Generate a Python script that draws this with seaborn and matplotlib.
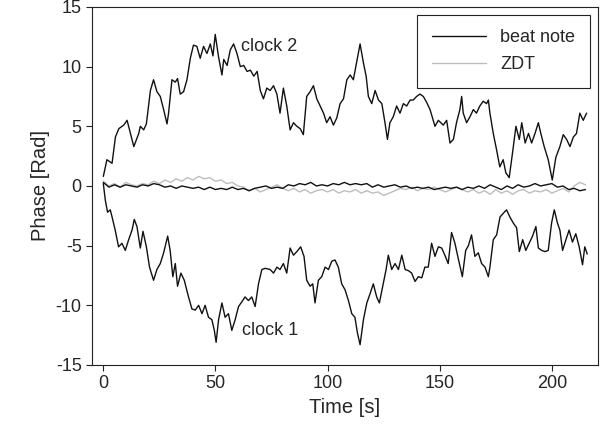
import matplotlib
matplotlib.use("Agg")
import matplotlib.pyplot as plt
import seaborn as sns
import pandas as pd
import numpy as np

# clock 2 (upper random walk)
clock2_t = [0, 1.6, 3.9, 5.4, 6.9, 9.1, 10.6, 12.1, 13.6, 15.8, 16.5, 18.0, 19.2, 21.0, 22.4,
            23.9, 25.4, 26.9, 28.4, 29.1, 30.6, 32.1, 33.1, 34.3, 35.8, 37.3, 38.8, 40.2, 41.7,
            43.2, 44.7, 46.2, 47.7, 48.9, 49.9, 51.4, 52.9, 53.7, 55.2, 56.6, 58.1, 59.6, 61.1,
            62.6, 64.1, 65.6, 67.1, 68.6, 70.0, 71.4, 72.9, 74.4, 75.9, 77.4, 78.8, 80.3, 81.8,
            83.3, 84.8, 86.3, 87.8, 89.2, 90.7, 92.2, 93.7, 95.2, 96.7, 98.2, 99.6, 101.1, 102.6,
            104.1, 105.6, 107.1, 108.6, 110.1, 111.5, 113.0, 114.5, 116.0, 117.2, 118.2, 119.7,
            121.2, 122.7, 124.2, 125.6, 126.7, 127.8, 129.3, 130.8, 132.3, 133.8, 135.3, 136.8,
            138.2, 139.7, 141.2, 142.7, 144.2, 145.7, 147.9, 149.4, 151.6, 153.1, 154.6, 156.1,
            157.5, 159.0, 159.8, 160.5, 162.0, 163.5, 165.0, 166.4, 167.9, 169.4, 170.9, 171.7,
            172.4, 173.9, 175.4, 176.8, 178.3, 179.5, 181.0, 182.5, 184.0, 185.5, 186.6, 188.1,
            189.6, 191.0, 192.5, 194.0, 195.1, 196.6, 198.4, 200.2, 201.8, 203.6, 205.1, 206.6,
            208.1, 209.6, 211.0, 212.5, 214.0, 215.5]
clock2_phase = [0.8, 2.2, 1.9, 4.1, 4.8, 5.1, 5.5, 4.4, 3.3, 4.4, 5.0, 4.7, 5.2, 8.0, 8.9,
                7.9, 7.5, 6.4, 5.2, 6.1, 8.9, 8.7, 9.0, 7.7, 7.9, 8.9, 10.7, 11.8, 11.7,
                10.7, 11.7, 11.1, 11.9, 10.9, 12.7, 10.8, 9.3, 10.6, 10.1, 11.4, 11.9, 11.1, 10.0,
                10.1, 9.6, 9.7, 9.2, 9.6, 8.0, 7.3, 8.2, 8.0, 8.4, 7.7, 6.1, 8.2, 6.7,
                4.7, 5.3, 5.0, 4.8, 4.3, 7.5, 7.9, 8.4, 7.3, 6.7, 6.1, 5.3, 5.8, 5.1,
                5.7, 6.9, 7.3, 8.9, 9.3, 8.9, 10.4, 11.9, 10.3, 9.2, 7.5, 6.9,
                8.0, 7.2, 6.9, 5.3, 3.9, 5.3, 5.8, 6.7, 6.1, 6.9, 6.7, 7.2,
                7.2, 7.5, 7.7, 7.5, 7.0, 6.4, 5.0, 5.5, 5.1, 5.5, 3.6, 3.9,
                5.3, 6.4, 7.5, 6.1, 5.3, 5.8, 6.4, 6.1, 6.7, 7.1, 6.9, 7.2,
                6.1, 4.4, 3.0, 1.6, 2.2, 1.1, 0.7, 2.8, 5.0, 3.9, 5.3, 3.6,
                4.4, 3.6, 4.4, 5.3, 4.4, 3.3, 2.2, 0.5, 2.4, 3.3, 4.3, 3.9,
                3.3, 4.1, 4.4, 6.1, 5.5, 6.1]

# clock 1 (lower random walk)
clock1_t = [0, 0.9, 1.9, 3.1, 3.9, 5.3, 6.8, 8.3, 9.8, 11.3, 12.8, 13.8, 15.0, 16.5, 17.7,
            19.2, 20.6, 22.4, 23.9, 25.4, 26.9, 28.7, 29.8, 31.0, 32.1, 33.1, 34.6, 36.1, 38.0,
            39.5, 41.0, 42.5, 44.0, 45.4, 46.9, 48.4, 49.5, 50.3, 51.4, 52.9, 54.3, 55.8, 57.3,
            58.8, 60.3, 61.8, 63.2, 64.7, 66.2, 67.7, 69.2, 70.7, 72.2, 74.4, 75.9, 77.4, 78.8,
            80.3, 81.8, 83.3, 84.8, 86.3, 88.0, 89.5, 90.7, 92.2, 93.4, 94.4, 95.9, 97.4, 98.9,
            100.4, 101.9, 103.3, 104.8, 106.3, 107.8, 109.3, 110.8, 112.2, 113.3, 114.5, 116.0,
            117.5, 119.0, 120.4, 121.9, 123.1, 124.6, 126.1, 127.1, 128.6, 130.1, 131.6, 133.1,
            134.6, 136.1, 137.5, 139.0, 140.5, 142.0, 143.4, 144.9, 146.4, 147.9, 149.4, 150.9,
            152.3, 153.8, 155.3, 156.8, 158.3, 160.1, 161.6, 162.8, 164.2, 165.7, 167.2, 168.7,
            170.2, 171.7, 172.4, 173.9, 175.4, 176.9, 178.3, 179.8, 181.3, 182.8, 184.3, 185.5,
            187.0, 188.4, 189.9, 191.4, 192.9, 194.0, 195.5, 197.0, 198.4, 199.9, 201.1, 202.5,
            203.6, 204.8, 206.3, 207.7, 209.2, 210.7, 212.2, 213.7, 214.7, 215.8]
clock1_phase = [0.2, -1.2, -2.2, -2.0, -2.6, -3.7, -5.1, -4.8, -5.4, -4.5, -3.7, -2.8, -3.4, -5.2, -3.8,
                -5.1, -6.8, -7.9, -7.0, -6.5, -5.6, -4.2, -5.4, -7.6, -6.5, -8.4, -7.3, -7.9, -9.3,
                -10.3, -10.4, -10.0, -10.7, -10.0, -11.0, -11.2, -12.1, -13.1, -11.2, -9.8, -11.0, -10.7, -12.1,
                -11.2, -10.1, -9.7, -9.3, -9.6, -9.3, -10.1, -8.2, -7.0, -6.9, -7.0, -7.3, -6.8, -7.0,
                -6.5, -7.3, -5.2, -5.8, -5.5, -5.1, -5.9, -7.9, -8.4, -8.2, -9.8, -7.9, -7.6, -6.8,
                -7.0, -6.3, -6.2, -6.8, -8.2, -8.7, -9.6, -10.7, -11.0, -12.3, -13.3, -11.2,
                -9.8, -9.0, -8.2, -9.3, -9.8, -8.4, -7.0, -5.8, -7.0, -6.5, -7.0, -5.8,
                -7.0, -7.1, -7.3, -8.0, -7.6, -7.7, -6.8, -6.8, -4.8, -5.9, -5.1, -5.2,
                -5.8, -6.5, -3.9, -4.8, -6.1, -7.6, -5.4, -5.0, -4.1, -5.9, -5.6, -6.5,
                -6.8, -7.6, -6.8, -4.5, -4.1, -2.6, -2.3, -2.0, -2.6, -3.1, -3.5, -5.5,
                -4.5, -5.4, -4.8, -4.2, -3.4, -5.2, -5.4, -5.5, -5.4, -3.1, -2.0, -3.1,
                -3.7, -5.4, -4.5, -3.7, -4.7, -4.0, -5.1, -6.6, -5.1, -5.7]

# beat note and ZDT, sampled every 2.5 s
fine_t = np.arange(0, 215.1, 2.5)
beat_note = [0.3, -0.1, 0.1, -0.1, 0.1, 0.0, -0.1, 0.1, 0.0, 0.2, 0.1, -0.1, 0.0, -0.2, 0.0,
             -0.1, -0.2, -0.1, -0.3, -0.1, -0.3, -0.2, -0.3, -0.1, -0.3, -0.2, -0.4, -0.2, -0.1,
             0.0, -0.2, -0.1, -0.2, 0.1, 0.0, 0.2, 0.1, 0.3, 0.0, 0.1, 0.0, 0.2, 0.1, 0.3, 0.1,
             0.2, 0.1, 0.2, -0.1, 0.1, -0.1, 0.0, 0.1, -0.1, 0.0, -0.2, -0.1, -0.2, -0.1, -0.3,
             -0.2, -0.1, -0.2, -0.1, -0.3, -0.1, -0.2, 0.0, -0.2, 0.1, -0.1, -0.3, 0.0, -0.2,
             0.1, -0.1, 0.0, 0.2, 0.0, 0.1, 0.2, -0.1, 0.0, -0.3, -0.2, -0.4, -0.3]
zdt = [0.4, 0.0, 0.2, -0.1, 0.3, 0.1, 0.0, 0.2, 0.1, 0.4, 0.2, 0.5, 0.3, 0.6, 0.4,
       0.7, 0.5, 0.8, 0.6, 0.7, 0.4, 0.5, 0.2, 0.3, 0.0, -0.1, -0.4, -0.2, -0.5,
       -0.3, -0.1, 0.1, -0.2, -0.4, -0.2, -0.5, -0.3, -0.6, -0.4, -0.3, -0.5, -0.3, -0.6, -0.4, -0.5,
       -0.3, -0.6, -0.4, -0.6, -0.5, -0.8, -0.6, -0.4, -0.2, -0.3, -0.1, -0.4, -0.2, -0.3, -0.1,
       -0.3, -0.5, -0.3, -0.1, -0.3, -0.5, -0.3, -0.6, -0.4, -0.7, -0.3, -0.6, -0.4, -0.7,
       -0.4, -0.3, -0.6, -0.4, -0.5, -0.3, -0.6, -0.4, -0.2, -0.5, 0.0, 0.3, 0.1]

x_ticks = [0, 50, 100, 150, 200]
y_ticks = [-15, -10, -5, 0, 5, 10, 15]

sns.set_style("ticks")
plt.rcParams["font.family"] = ["Liberation Sans", "DejaVu Sans"]
plt.rcParams["axes.unicode_minus"] = False

fig = plt.figure(figsize=(6.02, 4.34), dpi=100)
ax = fig.add_axes([0.153, 0.159, 0.840, 0.825])

sns.lineplot(x=clock2_t, y=clock2_phase, ax=ax, color="#111111", lw=1.0, sort=False)
sns.lineplot(x=clock1_t, y=clock1_phase, ax=ax, color="#111111", lw=1.0, sort=False)
sns.lineplot(x=fine_t, y=zdt, ax=ax, color="#bdbdbd", lw=1.0, label="ZDT")
sns.lineplot(x=fine_t, y=beat_note, ax=ax, color="#111111", lw=1.0, label="beat note")

# legend order: beat note first
handles, labels = ax.get_legend_handles_labels()
order = [labels.index("beat note"), labels.index("ZDT")]
leg = ax.legend([handles[i] for i in order], [labels[i] for i in order],
                loc="upper right", bbox_to_anchor=(0.984, 0.978), fontsize=13,
                frameon=True, fancybox=False, edgecolor="#222222", framealpha=1,
                handlelength=3.0, handletextpad=0.8, borderpad=0.8, labelspacing=0.55,
                borderaxespad=0)
leg.get_frame().set_linewidth(0.8)

ax.text(61.3, 11.7, "clock 2", fontsize=13, va="center", ha="left")
ax.text(61.7, -12.1, "clock 1", fontsize=13, va="center", ha="left")

ax.set_xlim(-5, 220.5)
ax.set_ylim(-15, 15)
ax.set_xticks(x_ticks)
ax.set_yticks(y_ticks)
ax.tick_params(labelsize=13, direction="out", length=4, width=0.8, color="#222222")
ax.set_xlabel("Time [s]", fontsize=14.5)
ax.set_ylabel("Phase [Rad]", fontsize=14.5)
for s in ax.spines.values():
    s.set_visible(True)
    s.set_linewidth(0.8)
    s.set_color("#222222")

fig.savefig("out.png", dpi=100)
